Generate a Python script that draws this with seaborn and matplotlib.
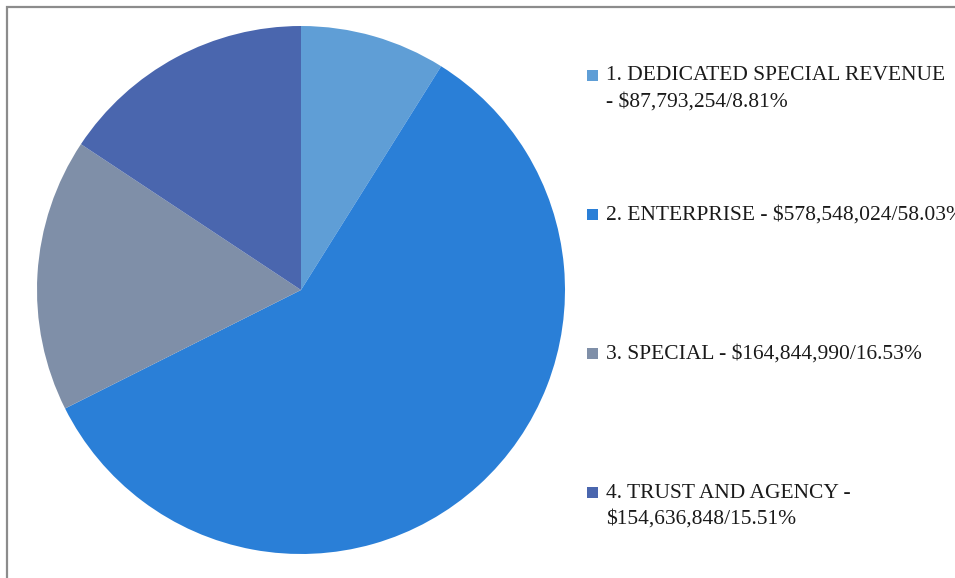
import matplotlib
matplotlib.use("Agg")
import matplotlib.pyplot as plt
from matplotlib.patches import Rectangle
import seaborn as sns

# data
funds = ["1. DEDICATED SPECIAL REVENUE", "2. ENTERPRISE", "3. SPECIAL", "4. TRUST AND AGENCY"]
amounts = [87793254, 578548024, 164844990, 154636848]
percents = [8.81, 58.03, 16.53, 15.51]
colors = sns.color_palette(["#5f9ed6", "#2a7fd7", "#7f8fa8", "#4a66ae"])

sns.set_style("white")
plt.rcParams["font.family"] = ["Liberation Serif", "DejaVu Serif"]

W, H = 955, 578
fig = plt.figure(figsize=(W / 100, H / 100), dpi=100)

# outer frame (cut off at right/bottom like the original)
fig.patches.append(Rectangle((7 / W, -0.1), 1.2, 1 - 7 / H + 0.1, transform=fig.transFigure,
                             fill=False, edgecolor="#8c8c8c", linewidth=1.6))

cx, cy, r = 301, 290, 264
ax = fig.add_axes([(cx - r) / W, (H - cy - r) / H, 2 * r / W, 2 * r / H])
ax.pie(amounts, colors=colors, startangle=90, counterclock=False, radius=1,
       wedgeprops=dict(linewidth=0))
ax.set_xlim(-1, 1)
ax.set_ylim(-1, 1)
ax.axis("off")

labels = [
    ["%s" % funds[0], "- $%s/%.2f%%" % (format(amounts[0], ","), percents[0])],
    ["%s - $%s/%.2f%%" % (funds[1], format(amounts[1], ","), percents[1])],
    ["%s - $%s/%.2f%%" % (funds[2], format(amounts[2], ","), percents[2])],
    ["%s -" % funds[3], "$%s/%.2f%%" % (format(amounts[3], ","), percents[3])],
]
first_line_y = [76, 215, 354, 493]
for lines, col, y in zip(labels, colors, first_line_y):
    fig.patches.append(Rectangle((587 / W, 1 - (y + 5) / H), 11 / W, 11 / H,
                                 transform=fig.transFigure, facecolor=col, edgecolor="none"))
    for i, line in enumerate(lines):
        fig.text(606 / W, 1 - (y + 26 * i) / H, line, fontsize=15.5, va="center", ha="left",
                 color="#1a1a1a", transform=fig.transFigure)

fig.savefig("out.png", dpi=100)
